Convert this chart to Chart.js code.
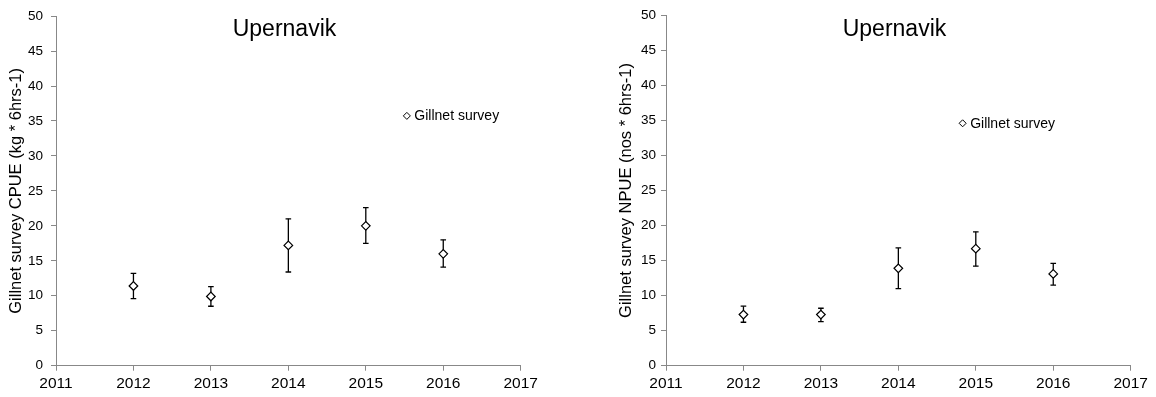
<!DOCTYPE html>
<html><head><meta charset="utf-8">
<script src="https://cdn.jsdelivr.net/npm/chart.js@4/dist/chart.umd.min.js"></script>
<style>
html,body{margin:0;padding:0;background:#fff;width:1156px;height:397px;overflow:hidden}
.box{position:absolute;top:0;width:546px;height:397px}
canvas{display:block}
</style></head><body>
<div class="box" style="left:0"><canvas id="c1" width="546" height="397"></canvas></div>
<div class="box" style="left:610px"><canvas id="c2" width="546" height="397"></canvas></div>
<script>
// ---- data ----
const years = [2012, 2013, 2014, 2015, 2016];
const cpueMean = [11.4, 9.9, 17.2, 20.0, 16.0];
const cpueLow  = [9.6, 8.5, 13.4, 17.5, 14.1];
const cpueHigh = [13.2, 11.3, 21.0, 22.6, 18.0];
const npueMean = [7.3, 7.3, 13.9, 16.7, 13.1];
const npueLow  = [6.2, 6.3, 11.0, 14.2, 11.5];
const npueHigh = [8.5, 8.2, 16.8, 19.1, 14.6];
const xTickLabels = ['2011', '2012', '2013', '2014', '2015', '2016', '2017'];
const yTickLabels = ['0', '5', '10', '15', '20', '25', '30', '35', '40', '45', '50'];
const chartTitle = 'Upernavik';
const seriesName = 'Gillnet survey';
const yTitleCPUE = 'Gillnet survey CPUE (kg * 6hrs-1)';
const yTitleNPUE = 'Gillnet survey NPUE (nos * 6hrs-1)';

const FONT = '"Liberation Sans", Arial, Helvetica, sans-serif';
const AXIS = '#888888';
const TEXT = '#000000';

function overlayPlugin(legendAt) {
  return {
    id: 'overlay',
    afterDraw(chart) {
      const {ctx, scales: {x, y}} = chart;
      ctx.save();
      // chart title
      ctx.fillStyle = '#000';
      ctx.font = '23px ' + FONT;
      ctx.textAlign = 'center';
      ctx.textBaseline = 'middle';
      ctx.fillText(chartTitle, x.getPixelForValue(2013.95), y.getPixelForValue(48));
      // legend
      const lx = x.getPixelForValue(legendAt.x), ly = y.getPixelForValue(legendAt.y);
      const r = 3.5;
      ctx.beginPath();
      ctx.moveTo(lx - r, ly); ctx.lineTo(lx, ly - r); ctx.lineTo(lx + r, ly); ctx.lineTo(lx, ly + r);
      ctx.closePath();
      ctx.fillStyle = '#fff'; ctx.fill();
      ctx.lineWidth = 1; ctx.strokeStyle = '#000'; ctx.stroke();
      ctx.fillStyle = TEXT;
      ctx.font = '14px ' + FONT;
      ctx.textAlign = 'left';
      ctx.fillText(seriesName, lx + 7.5, ly + 0.5);
      ctx.restore();
    }
  };
}

function build(id, mean, low, high, yTitle, legendAt, tickPad) {
  const errData = [];
  years.forEach((yr, i) => {
    errData.push({x: yr, y: low[i]}, {x: yr, y: high[i]}, {x: yr, y: null});
  });
  new Chart(document.getElementById(id), {
    type: 'scatter',
    data: {
      datasets: [
        {
          label: seriesName,
          data: years.map((yr, i) => ({x: yr, y: mean[i]})),
          pointStyle: 'rectRot',
          pointRadius: 4.3,
          pointBackgroundColor: '#ffffff',
          pointBorderColor: '#000000',
          pointBorderWidth: 1.2,
          showLine: false
        },
        {
          label: 'error',
          data: errData,
          showLine: true,
          spanGaps: false,
          borderColor: '#000000',
          borderWidth: 1.3,
          pointStyle: 'line',
          pointRadius: 2.8,
          pointBorderColor: '#000000',
          pointBorderWidth: 1.3
        }
      ]
    },
    options: {
      responsive: false,
      animation: false,
      devicePixelRatio: 1,
      events: [],
      layout: {padding: {left: 0, top: 15.3, right: 25.3, bottom: 0}},
      plugins: {legend: {display: false}, tooltip: {enabled: false}, title: {display: false}},
      scales: {
        x: {
          type: 'linear',
          min: Number(xTickLabels[0]),
          max: Number(xTickLabels[xTickLabels.length - 1]),
          grid: {drawOnChartArea: false, drawTicks: true, tickLength: 5, color: AXIS, lineWidth: 1},
          border: {display: true, color: AXIS, width: 1},
          ticks: {
            stepSize: 1, autoSkip: false, maxRotation: 0, padding: 3.5,
            color: TEXT, font: {family: FONT, size: 15.5},
            callback: (v) => xTickLabels[Math.round(v - Number(xTickLabels[0]))]
          },
          afterFit: (s) => { s.height = 31.3; }
        },
        y: {
          type: 'linear',
          min: Number(yTickLabels[0]),
          max: Number(yTickLabels[yTickLabels.length - 1]),
          grid: {drawOnChartArea: false, drawTicks: true, tickLength: 5, color: AXIS, lineWidth: 1},
          border: {display: true, color: AXIS, width: 1},
          ticks: {
            stepSize: 5, autoSkip: false, padding: tickPad,
            color: TEXT, font: {family: FONT, size: 13.5},
            callback: (v) => yTickLabels[yTickLabels.indexOf(String(v))]
          },
          title: {display: true, text: yTitle, color: TEXT, font: {family: FONT, size: 16.5}, padding: {top: 6.1, bottom: 0}},
          afterFit: (s) => { s.width = 56; }
        }
      }
    },
    plugins: [overlayPlugin(legendAt)]
  });
}

build('c1', cpueMean, cpueLow, cpueHigh, yTitleCPUE, {x: 2015.53, y: 35.73}, 8);
build('c2', npueMean, npueLow, npueHigh, yTitleNPUE, {x: 2014.83, y: 34.59}, 5);
</script>
</body></html>
